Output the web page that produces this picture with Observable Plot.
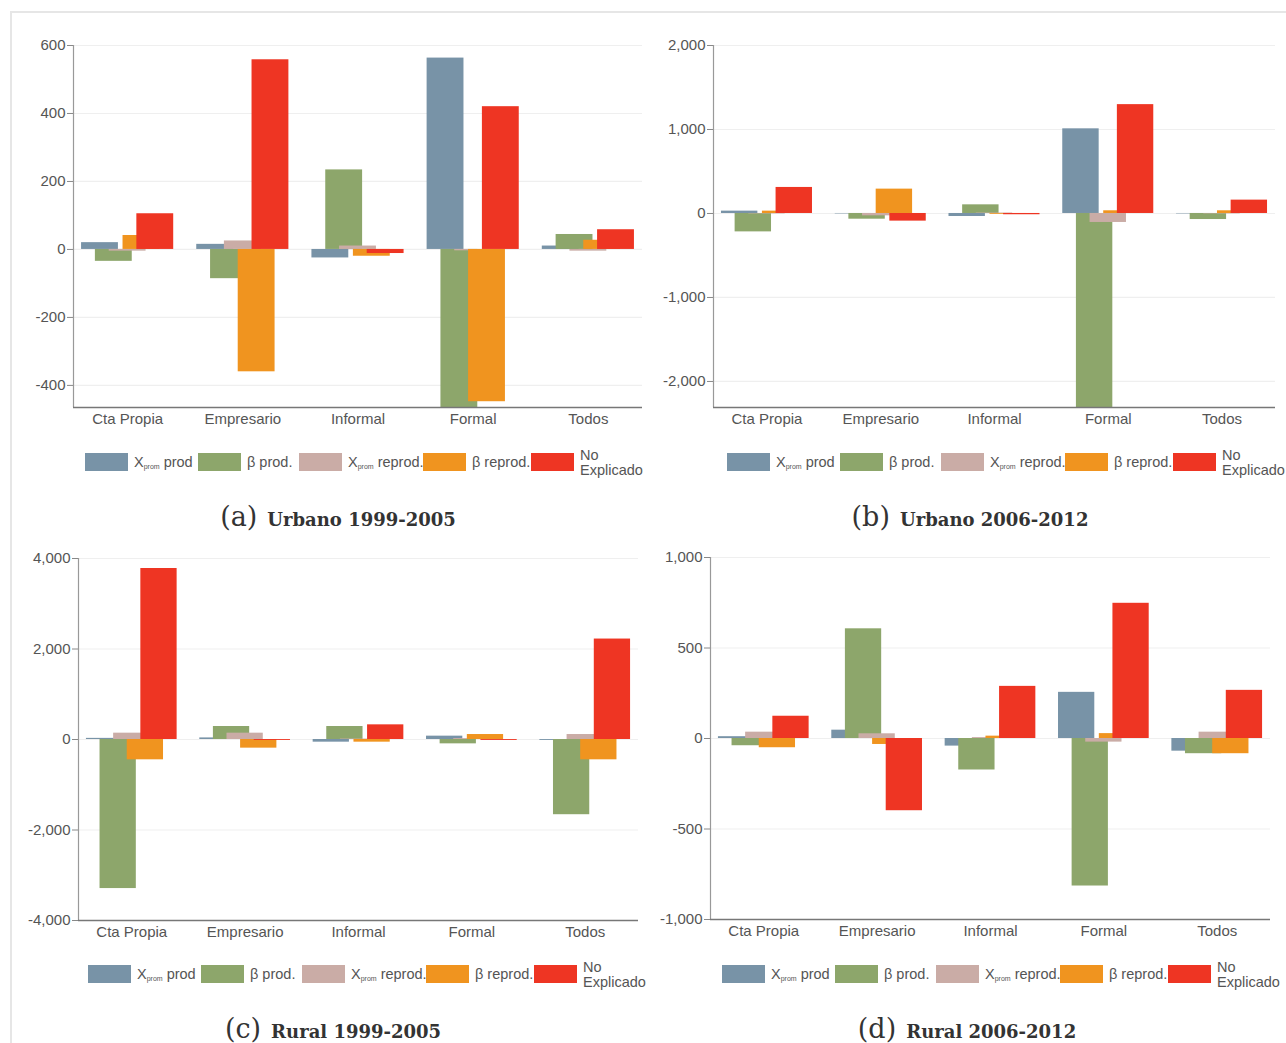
<!DOCTYPE html>
<html><head><meta charset="utf-8">
<script src="https://cdn.jsdelivr.net/npm/d3@7"></script>
<script src="https://cdn.jsdelivr.net/npm/@observablehq/plot@0.6"></script>
<style>
body{margin:0;background:#fff;width:1286px;height:1043px;position:relative;overflow:hidden;font-family:"Liberation Sans",Arial,sans-serif;}
.frame{position:absolute;left:10px;top:11px;width:1300px;height:1100px;border-top:2px solid #e6e6e6;border-left:2px solid #e6e6e6;}
.panel{position:absolute;}
.legend{position:absolute;height:20px;width:600px;}
.sw{position:absolute;top:0;width:43px;height:18px;}
.lab{position:absolute;top:0;font-size:14.5px;color:#555;white-space:nowrap;line-height:18px;}
.lab.two{line-height:15px;top:-5px;}
.lab sub{font-size:7px;vertical-align:-2px;}
.cap{position:absolute;font-family:"DejaVu Serif",serif;color:#333;transform:translateX(-50%);white-space:nowrap;line-height:28px;}
.cap .l{font-size:27px;font-weight:normal;}
.cap .t{font-size:18px;font-weight:bold;margin-left:10px;}
</style></head><body>
<div class="frame"></div>
<div id="root"></div>
<script>
// ---------- data ----------
const categories = ["Cta Propia", "Empresario", "Informal", "Formal", "Todos"];
const seriesLabels = ["X<sub>prom</sub> prod", "β prod.", "X<sub>prom</sub> reprod.", "β reprod.", "No<br>Explicado"];
const seriesColors = ["#7893a7", "#8da66b", "#caaca6", "#f0941f", "#ee3523"];

// (a) Urbano 1999-2005
const urb99_xprod    = [20, 15, -25, 563, 10];
const urb99_bprod    = [-35, -86, 234, -480, 44];
const urb99_xreprod  = [-5, 25, 10, -4, -5];
const urb99_breprod  = [41, -360, -20, -448, 27];
const urb99_noexpl   = [105, 558, -12, 420, 58];
const urb99_ticks    = [600, 400, 200, 0, -200, -400];

// (b) Urbano 2006-2012
const urb06_xprod    = [28, -5, -36, 1008, -5];
const urb06_bprod    = [-219, -68, 103, -2400, -72];
const urb06_xreprod  = [-5, -28, 5, -107, -5];
const urb06_breprod  = [28, 290, -10, 32, 32];
const urb06_noexpl   = [310, -91, -15, 1296, 159];
const urb06_ticks    = [2000, 1000, 0, -1000, -2000];

// (c) Rural 1999-2005
const rur99_xprod    = [25, 35, -59, 74, -20];
const rur99_bprod    = [-3294, 287, 287, -96, -1662];
const rur99_xreprod  = [140, 140, 10, 20, 110];
const rur99_breprod  = [-449, -191, -59, 110, -449];
const rur99_noexpl   = [3779, -20, 324, -20, 2220];
const rur99_ticks    = [4000, 2000, 0, -2000, -4000];

// (d) Rural 2006-2012
const rur06_xprod    = [10, 46, -42, 255, -70];
const rur06_bprod    = [-40, 606, -174, -815, -84];
const rur06_xreprod  = [35, 26, 5, -20, 35];
const rur06_breprod  = [-51, -33, 13, 27, -84];
const rur06_noexpl   = [123, -399, 288, 747, 266];
const rur06_ticks    = [1000, 500, 0, -500, -1000];

const captions = [["(a)", "Urbano 1999-2005"], ["(b)", "Urbano 2006-2012"], ["(c)", "Rural 1999-2005"], ["(d)", "Rural 2006-2012"]];

// ---------- drawing ----------
const fmt = d => d3.format(",")(d).replace("−", "-");
const XD = [-0.47, 4.47];
const GROUP_START = -0.4, STEP = 0.12, BARW = 0.32;

function panel(seriesArrays, ticks, ydomain, box) {
  const data = [];
  seriesArrays.forEach((arr, s) => arr.forEach((v, c) => data.push({c, s, v})));
  const svg = Plot.plot({
    width: box.w, height: 405,
    marginLeft: box.ml, marginRight: box.mr, marginTop: 15, marginBottom: 28,
    style: {fontFamily: "Liberation Sans, Arial, sans-serif", color: "#555", background: "transparent"},
    x: {domain: XD, axis: null},
    y: {domain: ydomain, axis: null},
    marks: [
      Plot.ruleY(ticks, {stroke: "#efefef", strokeWidth: 1.2}),
      Plot.rectY(data, {
        x1: d => d.c + GROUP_START + d.s * STEP,
        x2: d => d.c + GROUP_START + d.s * STEP + BARW,
        y1: 0, y2: "v",
        fill: d => seriesColors[d.s],
        clip: true
      }),
      Plot.ruleX([XD[0]], {stroke: "#999", strokeWidth: 1.2}),
      Plot.ruleY([ydomain[0]], {stroke: "#777", strokeWidth: 1.6}),
      Plot.axisY(ticks, {tickFormat: fmt, tickSize: 6, tickPadding: 2, fontSize: 15, stroke: "#888", label: null}),
      Plot.axisX([0, 1, 2, 3, 4], {tickFormat: i => categories[i], tickSize: 0, tickPadding: 6, fontSize: 15, label: null})
    ]
  });
  const div = document.createElement("div");
  div.className = "panel";
  div.style.left = box.left + "px";
  div.style.top = box.top + "px";
  div.appendChild(svg);
  document.getElementById("root").appendChild(div);
}

function legend(left, top) {
  const offs = [0, 113, 214, 338, 446];
  const lg = document.createElement("div");
  lg.className = "legend";
  lg.style.left = left + "px";
  lg.style.top = top + "px";
  seriesLabels.forEach((lab, i) => {
    const sw = document.createElement("div");
    sw.className = "sw";
    sw.style.left = offs[i] + "px";
    sw.style.background = seriesColors[i];
    const t = document.createElement("div");
    t.className = "lab" + (i === 4 ? " two" : "");
    t.style.left = (offs[i] + 49) + "px";
    t.innerHTML = lab;
    lg.appendChild(t);
    lg.appendChild(sw);
  });
  document.getElementById("root").appendChild(lg);
}

function caption(k, cx, top) {
  const d = document.createElement("div");
  d.className = "cap";
  d.style.left = cx + "px";
  d.style.top = top + "px";
  d.innerHTML = `<span class="l">${captions[k][0]}</span><span class="t">${captions[k][1]}</span>`;
  document.getElementById("root").appendChild(d);
}

panel([urb99_xprod, urb99_bprod, urb99_xreprod, urb99_breprod, urb99_noexpl], urb99_ticks, [-465, 600],
  {left: 0, top: 30, w: 650, ml: 73, mr: 8});
panel([urb06_xprod, urb06_bprod, urb06_xreprod, urb06_breprod, urb06_noexpl], urb06_ticks, [-2310, 2000],
  {left: 640, top: 30, w: 646, ml: 73, mr: 11});
panel([rur99_xprod, rur99_bprod, rur99_xreprod, rur99_breprod, rur99_noexpl], rur99_ticks, [-4000, 4000],
  {left: 0, top: 543, w: 650, ml: 78, mr: 12});
panel([rur06_xprod, rur06_bprod, rur06_xreprod, rur06_breprod, rur06_noexpl], rur06_ticks, [-1000, 1000],
  {left: 640, top: 542, w: 646, ml: 70, mr: 16});

legend(85, 453);
legend(727, 453);
legend(88, 965);
legend(722, 965);

caption(0, 338, 503);
caption(1, 970, 503);
caption(2, 333, 1015);
caption(3, 967, 1015);
</script>
</body></html>
